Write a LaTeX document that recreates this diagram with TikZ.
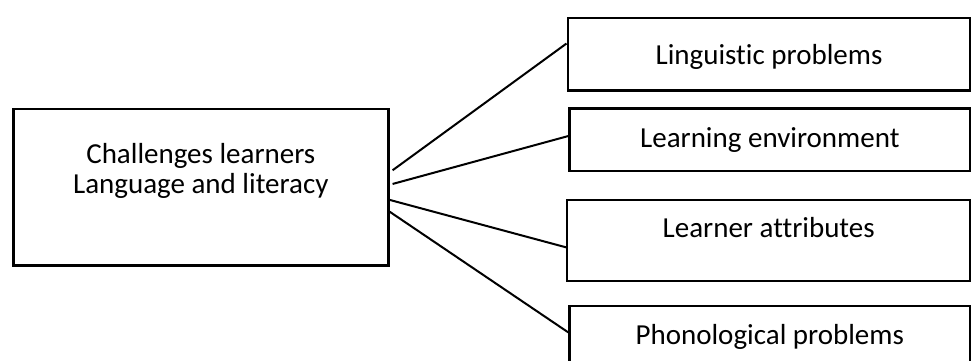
\documentclass[tikz,border=0pt]{standalone}
\usepackage{fontspec}
\setmainfont{Carlito}[Ligatures={NoCommon}]
\usetikzlibrary{calc}
\tikzset{
  mainbox/.style={draw, line width=1.3pt, inner sep=0pt, anchor=north west},
  sidebox/.style={draw, line width=1.15pt, inner xsep=0pt, inner ysep=0pt, anchor=north west, font=\fontsize{14.5}{15}\selectfont},
  link/.style={line width=1pt}
}
\begin{document}
\begin{tikzpicture}[x=0.5pt, y=-0.5pt]
\useasboundingbox (0,0) rectangle (971,360);
\clip (0,0) rectangle (971,360);
\node[mainbox] (main) at (12,107.7)
  {\parbox[c][78.3pt][t]{187.5pt}{\fontsize{14.5}{14.8}\selectfont\centering
   \vspace*{17.2pt}Challenges learners\\Language and literacy}};
\node[sidebox, minimum width=201.4pt, text height=23.15pt, text depth=13.15pt] (b1) at (566.5,16.7) {Linguistic problems};
\node[sidebox, minimum width=200.35pt, text height=19.7pt, text depth=11.65pt] (b2) at (568.3,107.3) {Learning environment};
\node[sidebox, minimum width=201.5pt, text height=19pt, text depth=21.4pt] (b3) at (566,198.7) {Learner attributes};
\node[sidebox, minimum width=200.35pt, text height=19pt, text depth=26pt] (b4) at (568.3,305) {Phonological problems};
\coordinate (s1) at ($(main.north east)!0.393!(main.south east) + (1.5pt,0)$);
\coordinate (s2) at ($(main.north east)!0.479!(main.south east) + (1.5pt,0)$);
\coordinate (s3) at ($(main.north east)!0.579!(main.south east)$);
\coordinate (s4) at ($(main.north east)!0.653!(main.south east)$);
\draw[link] (s1) -- ($(b1.north west)!0.358!(b1.south west)$);
\draw[link] (s2) -- ($(b2.north west)!0.442!(b2.south west)$);
\draw[link] (s3) -- ($(b3.north west)!0.585!(b3.south west)$);
\draw[link] (s4) -- ($(b4.north west)!0.297!(b4.south west)$);
\end{tikzpicture}
\end{document}
